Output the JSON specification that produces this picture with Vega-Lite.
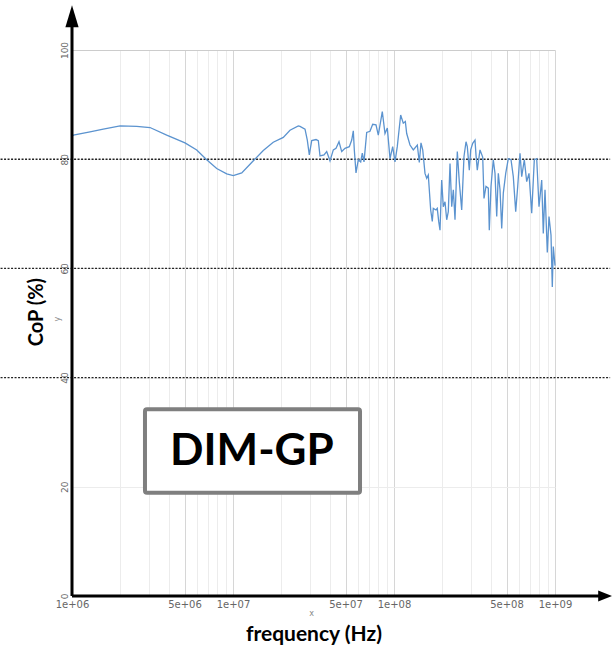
{
  "$schema": "https://vega.github.io/schema/vega-lite/v6.json",
  "autosize": "none",
  "width": 483,
  "height": 546,
  "padding": {"left": 72, "top": 50, "right": 57, "bottom": 54},
  "background": "white",
  "config": {"view": {"stroke": null}, "font": "DejaVu Sans"},
  "layer": [
    {
      "data": {"values": [{"level": 40}, {"level": 60}, {"level": 80}]},
      "mark": {"type": "rule", "strokeDash": [2, 1.5], "color": "#222222", "strokeWidth": 1.4},
      "encoding": {
        "x": {"datum": 360000, "type": "quantitative"},
        "x2": {"datum": 2200000000},
        "y": {"field": "level", "type": "quantitative"}
      }
    },
    {
      "data": {"values": [
        {"f": 1000000, "cop": 84.2}, {"f": 1020000, "cop": 84.4}, {"f": 1294000, "cop": 85.0},
        {"f": 1564000, "cop": 85.5}, {"f": 1990000, "cop": 86.1}, {"f": 2523000, "cop": 86.0},
        {"f": 3051000, "cop": 85.8}, {"f": 3875000, "cop": 84.4}, {"f": 5033000, "cop": 83.0},
        {"f": 5952000, "cop": 81.7}, {"f": 6866000, "cop": 79.9}, {"f": 7921000, "cop": 78.3},
        {"f": 9139000, "cop": 77.3}, {"f": 10040000, "cop": 77.0}, {"f": 11330000, "cop": 77.5},
        {"f": 13060000, "cop": 79.4}, {"f": 15420000, "cop": 81.6}, {"f": 17780000, "cop": 83.1},
        {"f": 20530000, "cop": 84.0}, {"f": 22590000, "cop": 85.3}, {"f": 25440000, "cop": 86.1},
        {"f": 26070000, "cop": 86.0}, {"f": 28010000, "cop": 85.5}, {"f": 28940000, "cop": 83.5},
        {"f": 29780000, "cop": 80.8}, {"f": 30820000, "cop": 83.4}, {"f": 32780000, "cop": 83.6},
        {"f": 33880000, "cop": 83.4}, {"f": 34710000, "cop": 80.6}, {"f": 36750000, "cop": 80.8},
        {"f": 38190000, "cop": 81.4}, {"f": 40040000, "cop": 79.7}, {"f": 41980000, "cop": 81.7},
        {"f": 43640000, "cop": 82.0}, {"f": 45550000, "cop": 83.2}, {"f": 47340000, "cop": 81.4},
        {"f": 49630000, "cop": 82.0}, {"f": 52770000, "cop": 82.3}, {"f": 54630000, "cop": 83.5},
        {"f": 55880000, "cop": 85.2}, {"f": 56690000, "cop": 81.7}, {"f": 58080000, "cop": 77.5},
        {"f": 60020000, "cop": 79.9}, {"f": 62110000, "cop": 79.5}, {"f": 63550000, "cop": 81.1},
        {"f": 65120000, "cop": 79.5}, {"f": 67670000, "cop": 84.9}, {"f": 70940000, "cop": 85.1},
        {"f": 73740000, "cop": 86.4}, {"f": 77300000, "cop": 86.3}, {"f": 79890000, "cop": 84.4},
        {"f": 84590000, "cop": 88.7}, {"f": 87920000, "cop": 84.7}, {"f": 90880000, "cop": 85.7},
        {"f": 94450000, "cop": 80.1}, {"f": 98150000, "cop": 82.3}, {"f": 101440000, "cop": 79.5},
        {"f": 104800000, "cop": 82.3}, {"f": 110000000, "cop": 88.1}, {"f": 114200000, "cop": 86.6},
        {"f": 117600000, "cop": 86.9}, {"f": 119900000, "cop": 84.7}, {"f": 125700000, "cop": 82.6},
        {"f": 131800000, "cop": 81.7}, {"f": 139600000, "cop": 82.6}, {"f": 143600000, "cop": 79.4},
        {"f": 147100000, "cop": 83.0}, {"f": 150800000, "cop": 81.7}, {"f": 155800000, "cop": 77.4},
        {"f": 159600000, "cop": 76.5}, {"f": 163300000, "cop": 77.1}, {"f": 169000000, "cop": 70.7},
        {"f": 172900000, "cop": 68.6}, {"f": 175400000, "cop": 71.0}, {"f": 182300000, "cop": 70.7},
        {"f": 185700000, "cop": 71.0}, {"f": 189500000, "cop": 68.6}, {"f": 193100000, "cop": 67.0},
        {"f": 197800000, "cop": 76.2}, {"f": 202400000, "cop": 71.3}, {"f": 207400000, "cop": 72.2},
        {"f": 212500000, "cop": 68.9}, {"f": 217400000, "cop": 70.4}, {"f": 222800000, "cop": 79.2},
        {"f": 228300000, "cop": 71.3}, {"f": 233600000, "cop": 74.4}, {"f": 239300000, "cop": 68.9},
        {"f": 247300000, "cop": 81.4}, {"f": 254400000, "cop": 75.9}, {"f": 263300000, "cop": 70.7},
        {"f": 272100000, "cop": 80.5}, {"f": 280100000, "cop": 83.2}, {"f": 285300000, "cop": 82.3},
        {"f": 293600000, "cop": 78.0}, {"f": 299500000, "cop": 81.7}, {"f": 308200000, "cop": 82.9},
        {"f": 318500000, "cop": 83.5}, {"f": 323100000, "cop": 80.8}, {"f": 329100000, "cop": 78.0},
        {"f": 342100000, "cop": 81.7}, {"f": 355600000, "cop": 80.4}, {"f": 362200000, "cop": 72.8},
        {"f": 372700000, "cop": 75.0}, {"f": 385200000, "cop": 74.7}, {"f": 390800000, "cop": 67.0},
        {"f": 400400000, "cop": 75.0}, {"f": 413800000, "cop": 79.9}, {"f": 424000000, "cop": 77.4},
        {"f": 434500000, "cop": 69.5}, {"f": 444500000, "cop": 77.4}, {"f": 455500000, "cop": 74.4},
        {"f": 466700000, "cop": 67.3}, {"f": 477500000, "cop": 73.8}, {"f": 494200000, "cop": 77.4},
        {"f": 512900000, "cop": 80.1}, {"f": 533100000, "cop": 79.9}, {"f": 550800000, "cop": 76.8},
        {"f": 570100000, "cop": 70.4}, {"f": 586600000, "cop": 75.0}, {"f": 606200000, "cop": 81.1},
        {"f": 621200000, "cop": 76.8}, {"f": 644700000, "cop": 79.9}, {"f": 667200000, "cop": 75.9},
        {"f": 689500000, "cop": 77.4}, {"f": 716700000, "cop": 70.1}, {"f": 743800000, "cop": 79.9},
        {"f": 769800000, "cop": 80.1}, {"f": 795500000, "cop": 71.3}, {"f": 826900000, "cop": 76.2},
        {"f": 845900000, "cop": 66.4}, {"f": 866900000, "cop": 74.4}, {"f": 895800000, "cop": 62.9},
        {"f": 917800000, "cop": 69.5}, {"f": 944500000, "cop": 66.1}, {"f": 962100000, "cop": 56.6},
        {"f": 975900000, "cop": 64.0}, {"f": 1000000000, "cop": 60.5}
      ]},
      "mark": {"type": "line", "color": "#5b93cf", "strokeWidth": 1.3},
      "encoding": {
        "x": {
          "field": "f", "type": "quantitative",
          "scale": {"type": "log", "domain": [1000000, 1000000000], "nice": false},
          "axis": {
            "title": null,
            "values": [1000000, 2000000, 3000000, 4000000, 5000000, 6000000, 7000000, 8000000, 9000000,
                       10000000, 20000000, 30000000, 40000000, 50000000, 60000000, 70000000, 80000000, 90000000,
                       100000000, 200000000, 300000000, 400000000, 500000000, 600000000, 700000000, 800000000, 900000000,
                       1000000000],
            "labelExpr": "datum.value==1000000?'1e+06':datum.value==5000000?'5e+06':datum.value==10000000?'1e+07':datum.value==50000000?'5e+07':datum.value==100000000?'1e+08':datum.value==500000000?'5e+08':datum.value==1000000000?'1e+09':''",
            "grid": true,
            "gridColor": {"condition": {"test": "datum.value==5000000||datum.value==10000000||datum.value==50000000||datum.value==100000000||datum.value==500000000||datum.value==1000000000", "value": "#d6d6d6"}, "value": "#ececec"},
            "domain": false, "ticks": false,
            "labelFontSize": 10, "labelColor": "#666666", "labelPadding": 3,
            "labelOverlap": false, "labelFlush": false, "labelBound": false
          }
        },
        "y": {
          "field": "cop", "type": "quantitative",
          "scale": {"domain": [0, 100], "nice": false, "zero": false},
          "axis": {
            "title": null, "values": [0, 20, 40, 60, 80, 100], "labelAngle": 270,
            "grid": true,
            "gridColor": {"condition": {"test": "datum.value==100", "value": "#cccccc"}, "value": "#ececec"},
            "domain": false, "ticks": false,
            "labelFontSize": 9, "labelColor": "#666666", "labelPadding": 3
          }
        }
      }
    },
    {
      "data": {"values": [{}]},
      "mark": {"type": "rule", "color": "black", "strokeWidth": 3},
      "encoding": {
        "x": {"datum": 1000000, "type": "quantitative"},
        "y": {"datum": 0, "type": "quantitative"},
        "y2": {"datum": 105}
      }
    },
    {
      "data": {"values": [{}]},
      "mark": {"type": "rule", "color": "black", "strokeWidth": 3},
      "encoding": {
        "x": {"datum": 1000000, "type": "quantitative"},
        "x2": {"datum": 1950000000},
        "y": {"datum": 0, "type": "quantitative"}
      }
    },
    {
      "data": {"values": [{}]},
      "mark": {"type": "point", "shape": "M-0.6,1L0,-1L0.6,1Z", "filled": true, "color": "black", "opacity": 1, "size": 484},
      "encoding": {
        "x": {"datum": 1000000, "type": "quantitative"},
        "y": {"datum": 106.2, "type": "quantitative"}
      }
    },
    {
      "data": {"values": [{}]},
      "mark": {"type": "point", "shape": "M-1,-0.8L1,0L-1,0.8Z", "filled": true, "color": "black", "opacity": 1, "size": 196},
      "encoding": {
        "x": {"datum": 2050000000, "type": "quantitative"},
        "y": {"datum": 0, "type": "quantitative"}
      }
    },
    {
      "data": {"values": [{}]},
      "mark": {"type": "rect", "fill": "white", "stroke": "#7f7f7f", "strokeWidth": 4, "cornerRadius": 2},
      "encoding": {
        "x": {"datum": 2840000, "type": "quantitative"},
        "x2": {"datum": 61500000},
        "y": {"datum": 34.2, "type": "quantitative"},
        "y2": {"datum": 18.9}
      }
    },
    {
      "data": {"values": [{}]},
      "mark": {"type": "text", "text": "DIM-GP", "font": "Lato", "fontWeight": "bold", "fontSize": 44, "color": "black", "align": "center", "baseline": "middle"},
      "encoding": {
        "x": {"datum": 13100000, "type": "quantitative"},
        "y": {"datum": 26.4, "type": "quantitative"}
      }
    },
    {
      "data": {"values": [{}]},
      "mark": {"type": "text", "text": "CoP (%)", "font": "Lato", "fontWeight": "bold", "fontSize": 20, "angle": 270, "color": "black", "align": "center", "baseline": "middle"},
      "encoding": {
        "x": {"datum": 606000, "type": "quantitative"},
        "y": {"datum": 52.0, "type": "quantitative"}
      }
    },
    {
      "data": {"values": [{}]},
      "mark": {"type": "text", "text": "frequency (Hz)", "font": "Lato", "fontWeight": "bold", "fontSize": 21, "color": "black", "align": "center", "baseline": "middle"},
      "encoding": {
        "x": {"datum": 31800000, "type": "quantitative"},
        "y": {"datum": -7.1, "type": "quantitative"}
      }
    },
    {
      "data": {"values": [{}]},
      "mark": {"type": "text", "text": "y", "fontSize": 8, "angle": 270, "color": "#888888", "align": "center", "baseline": "middle"},
      "encoding": {
        "x": {"datum": 819000, "type": "quantitative"},
        "y": {"datum": 50.7, "type": "quantitative"}
      }
    },
    {
      "data": {"values": [{}]},
      "mark": {"type": "text", "text": "x", "fontSize": 8, "color": "#888888", "align": "center", "baseline": "middle"},
      "encoding": {
        "x": {"datum": 30800000, "type": "quantitative"},
        "y": {"datum": -3.3, "type": "quantitative"}
      }
    }
  ]
}
